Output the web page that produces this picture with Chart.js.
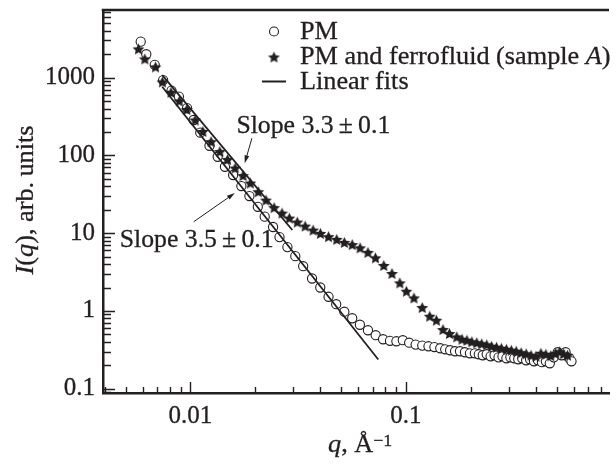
<!DOCTYPE html>
<html>
<head>
<meta charset="utf-8">
<script src="https://cdn.jsdelivr.net/npm/chart.js@4"></script>
<style>
  html, body { margin: 0; padding: 0; background: #fff; }
  #wrap { width: 616px; height: 466px; }
</style>
</head>
<body>
<div id="wrap"><canvas id="saxs" width="616" height="466"></canvas></div>
<script>
// PM, open circles
const qPM = [0.00588, 0.00624, 0.00683, 0.00747, 0.00817, 0.00884, 0.00965, 0.01035, 0.01111, 0.01226,
  0.01338, 0.01446, 0.01578, 0.01723, 0.01878, 0.02054, 0.02211, 0.02418, 0.0259, 0.02818,
  0.03066, 0.03335, 0.03667, 0.04003, 0.04373, 0.04747, 0.05176, 0.05631, 0.06113, 0.06665,
  0.07236, 0.07831, 0.08432, 0.09028, 0.09669, 0.1035, 0.1109, 0.119, 0.1272, 0.1355,
  0.1443, 0.1521, 0.1603, 0.169, 0.1781, 0.1878, 0.198, 0.2087, 0.2177, 0.2271,
  0.2369, 0.247, 0.2576, 0.2687, 0.2803, 0.2924, 0.305, 0.3181, 0.3318, 0.3461,
  0.361, 0.3765, 0.3926, 0.4097, 0.4273, 0.4457, 0.4649, 0.4849, 0.5057, 0.5275,
  0.5502, 0.5739, 0.5861];
const iPM = [2900, 2000, 1460, 930, 680, 570, 405, 285, 196, 133,
  96, 71.4, 55.9, 40.3, 30.0, 21.8, 16.3, 12.0, 8.89, 6.61,
  5.06, 3.76, 2.61, 2.0, 1.52, 1.22, 0.977, 0.805, 0.664, 0.564,
  0.487, 0.432, 0.413, 0.407, 0.420, 0.390, 0.369, 0.358, 0.351, 0.343,
  0.331, 0.321, 0.312, 0.303, 0.303, 0.294, 0.285, 0.285, 0.277, 0.269,
  0.277, 0.261, 0.269, 0.253, 0.261, 0.246, 0.253, 0.246, 0.239, 0.246,
  0.232, 0.239, 0.225, 0.232, 0.219, 0.225, 0.212, 0.253, 0.294, 0.269,
  0.294, 0.246, 0.225];

// PM and ferrofluid (sample A), stars
const qPMF = [0.005741, 0.006145, 0.006887, 0.007413, 0.008126, 0.008886, 0.009618, 0.01052, 0.01142, 0.01247,
  0.01369, 0.01486, 0.01613, 0.01754, 0.01897, 0.02065, 0.02242, 0.02444, 0.0266, 0.02877,
  0.03131, 0.03407, 0.03707, 0.0401, 0.04373, 0.04772, 0.05176, 0.05631, 0.06126, 0.06665,
  0.07221, 0.07889, 0.0861, 0.09368, 0.1005, 0.1089, 0.119, 0.1289, 0.1384, 0.1485,
  0.1592, 0.1721, 0.182, 0.1918, 0.2021, 0.2131, 0.2246, 0.2369, 0.2496, 0.2631,
  0.2773, 0.2924, 0.3082, 0.3248, 0.3424, 0.361, 0.3805, 0.4011, 0.4228, 0.4457,
  0.4698, 0.4952, 0.5164, 0.5386, 0.562];
const iPMF = [2340, 1740, 1373, 880, 645, 501, 389, 285, 203, 150,
  112, 88.4, 68.8, 55.0, 44.1, 34.1, 26.6, 21.3, 18.1, 15.6,
  13.87, 12.31, 10.94, 9.92, 9.02, 8.31, 7.60, 7.12, 6.47, 5.65,
  4.81, 3.84, 3.03, 2.29, 1.79, 1.47, 1.106, 0.855, 0.759, 0.576,
  0.512, 0.463, 0.432, 0.420, 0.401, 0.390, 0.378, 0.367, 0.351, 0.341,
  0.331, 0.321, 0.312, 0.303, 0.290, 0.281, 0.269, 0.261, 0.285, 0.277,
  0.265, 0.285, 0.298, 0.281, 0.269];

// linear fits (end points)
const fitPMq = [0.0074, 0.0744];
const fitPMi = [763, 0.237];
const fitPMFq = [0.0074, 0.0297];
const fitPMFi = [1075, 10.96];

const xTicks = [0.01, 0.1];
const xTickLabels = ['0.01', '0.1'];
const yTicks = [0.1, 1, 10, 100, 1000];
const yTickLabels = ['0.1', '1', '10', '100', '1000'];

const legendLabels = ['PM', 'PM and ferrofluid (sample ', 'Linear fits'];

// slope notes: text anchor and arrow tail/head, all in data units
const notes = [
  { text: 'Slope 3.3\u2009\u00b1\u20090.1', at: [0.01634, 194], tail: [0.01928, 166], head: [0.01786, 79] },
  { text: 'Slope 3.5\u2009\u00b1\u20090.1', at: [0.004697, 6.61], tail: [0.010354, 14.0], head: [0.01607, 32.8] }
];

const ink = '#231f20';
const FONT = '"Liberation Serif", "Times New Roman", serif';

const zip = (xs, ys) => xs.map((v, i) => ({ x: v, y: ys[i] }));

function makeStar(r) {
  const s = Math.ceil(r * 2 + 2);
  const c = document.createElement('canvas');
  c.width = s; c.height = s;
  const g = c.getContext('2d');
  g.translate(s / 2, s / 2 + 0.6);
  g.beginPath();
  for (let k = 0; k < 10; k++) {
    const rr = k % 2 ? r * 0.48 : r;
    const a = -Math.PI / 2 + k * Math.PI / 5;
    g.lineTo(rr * Math.cos(a), rr * Math.sin(a));
  }
  g.closePath();
  g.fillStyle = ink;
  g.fill();
  return c;
}
const star = makeStar(6.2);

// text runs with mixed upright / italic pieces, slightly widened
function drawRuns(ctx, parts, x, y, sx = 1.05) {
  ctx.save();
  ctx.translate(x, y);
  ctx.scale(sx, 1);
  ctx.lineWidth = 0.3;
  let cx = 0;
  for (const p of parts) {
    ctx.font = (p.it ? 'italic ' : '') + (p.size || 25) + 'px ' + FONT;
    ctx.fillText(p.t, cx, -(p.up || 0));
    ctx.strokeText(p.t, cx, -(p.up || 0));
    cx += ctx.measureText(p.t).width;
  }
  ctx.restore();
  return cx * sx;
}
function runsWidth(ctx, parts, sx = 1.05) {
  let w = 0;
  for (const p of parts) {
    ctx.font = (p.it ? 'italic ' : '') + (p.size || 25) + 'px ' + FONT;
    w += ctx.measureText(p.t).width;
  }
  return w * sx;
}
function arrow(ctx, x0, y0, x1, y1) {
  const a = Math.atan2(y1 - y0, x1 - x0);
  ctx.lineWidth = 1;
  ctx.beginPath(); ctx.moveTo(x0, y0); ctx.lineTo(x1 - 5 * Math.cos(a), y1 - 5 * Math.sin(a)); ctx.stroke();
  ctx.beginPath();
  ctx.moveTo(x1, y1);
  ctx.lineTo(x1 - 8 * Math.cos(a) + 2.4 * Math.sin(a), y1 - 8 * Math.sin(a) - 2.4 * Math.cos(a));
  ctx.lineTo(x1 - 8 * Math.cos(a) - 2.4 * Math.sin(a), y1 - 8 * Math.sin(a) + 2.4 * Math.cos(a));
  ctx.closePath(); ctx.fill();
}

const decor = {
  id: 'decor',
  afterDraw(chart) {
    const { ctx, chartArea: a, scales: { x, y } } = chart;
    ctx.save();
    ctx.strokeStyle = ink;
    ctx.fillStyle = ink;

    // top frame line
    ctx.lineWidth = 2.5;
    ctx.beginPath(); ctx.moveTo(a.left - 1.25, a.top); ctx.lineTo(a.right, a.top); ctx.stroke();

    // inward tick marks
    ctx.lineWidth = 1.4;
    ctx.beginPath();
    for (let e = -3; e <= 0; e++) {
      for (let k = 1; k <= 9; k++) {
        const v = k * Math.pow(10, e);
        if (v <= x.min || v >= x.max) continue;
        const px = Math.round(x.getPixelForValue(v)) + 0.5;
        ctx.moveTo(px, a.bottom); ctx.lineTo(px, a.bottom - (k === 1 ? 11 : 6));
      }
    }
    for (let e = -2; e <= 3; e++) {
      for (let k = 1; k <= 9; k++) {
        const v = k * Math.pow(10, e);
        if (v <= y.min || v >= y.max) continue;
        const py = Math.round(y.getPixelForValue(v)) + 0.5;
        ctx.moveTo(a.left, py); ctx.lineTo(a.left + (k === 1 ? 12 : 8), py);
      }
    }
    ctx.stroke();

    // legend
    ctx.textBaseline = 'alphabetic';
    ctx.textAlign = 'left';
    ctx.lineWidth = 1.1;
    ctx.fillStyle = '#fff';
    ctx.beginPath(); ctx.arc(274, 31.5, 4.5, 0, Math.PI * 2); ctx.fill(); ctx.stroke();
    ctx.fillStyle = ink;
    ctx.drawImage(star, 274 - star.width / 2, 57 - star.height / 2);
    ctx.lineWidth = 2;
    ctx.beginPath(); ctx.moveTo(262, 81.5); ctx.lineTo(286, 81.5); ctx.stroke();

    drawRuns(ctx, [{ t: legendLabels[0] }], 300, 38.5);
    drawRuns(ctx, [{ t: legendLabels[1] }, { t: 'A', it: true }, { t: ')' }], 300, 63.5);
    drawRuns(ctx, [{ t: legendLabels[2] }], 300, 88.5);

    // slope notes with arrows
    for (const n of notes) {
      drawRuns(ctx, [{ t: n.text }], x.getPixelForValue(n.at[0]), y.getPixelForValue(n.at[1]), 1.03);
      arrow(ctx, x.getPixelForValue(n.tail[0]), y.getPixelForValue(n.tail[1]),
        x.getPixelForValue(n.head[0]), y.getPixelForValue(n.head[1]));
    }

    // axis titles
    drawRuns(ctx, [{ t: 'q', it: true }, { t: ', \u00c5' }, { t: '\u22121', size: 17, up: 6 }], 328, 451.5);
    const yTitle = [{ t: 'I', it: true }, { t: '(' }, { t: 'q', it: true }, { t: '), arb.\u2009units' }];
    ctx.translate(33, 200);
    ctx.rotate(-Math.PI / 2);
    drawRuns(ctx, yTitle, -runsWidth(ctx, yTitle) / 2, 0);
    ctx.restore();
  }
};

new Chart(document.getElementById('saxs'), {
  type: 'scatter',
  data: {
    datasets: [
      {
        data: zip(fitPMFq, fitPMFi), showLine: true, pointRadius: 0,
        borderColor: ink, borderWidth: 1.8
      },
      {
        data: zip(fitPMq, fitPMi), showLine: true, pointRadius: 0,
        borderColor: ink, borderWidth: 1.8
      },
      {
        data: zip(qPMF, iPMF), pointStyle: star, pointRadius: 6
      },
      {
        data: zip(qPM, iPM), pointStyle: 'circle', pointRadius: 4.6,
        borderColor: ink, borderWidth: 1.1, backgroundColor: '#fff'
      }
    ]
  },
  options: {
    responsive: false,
    animation: false,
    devicePixelRatio: 1,
    layout: { padding: { top: 10, right: 0, left: 0, bottom: 0 } },
    plugins: { legend: { display: false }, tooltip: { enabled: false } },
    scales: {
      x: {
        type: 'logarithmic', min: 0.00393, max: 0.875,
        afterFit: (s) => { s.height = 73; s.paddingLeft = 0; s.paddingRight = 0; },
        afterBuildTicks: (s) => { s.ticks = xTicks.map(v => ({ value: v })); },
        grid: { display: false, drawTicks: false },
        border: { display: true, color: ink, width: 2.5 },
        ticks: {
          autoSkip: false, maxRotation: 0, padding: 8, color: ink,
          textStrokeColor: ink, textStrokeWidth: 0.3,
          font: { family: FONT, size: 25 },
          callback: (v, i) => xTickLabels[i]
        }
      },
      y: {
        type: 'logarithmic', min: 0.088, max: 7400,
        afterFit: (s) => { s.width = 103; s.paddingTop = 0; s.paddingBottom = 0; },
        afterBuildTicks: (s) => { s.ticks = yTicks.map(v => ({ value: v })); },
        grid: { display: false, drawTicks: false },
        border: { display: true, color: ink, width: 2.5 },
        ticks: {
          autoSkip: false, padding: 8, color: ink,
          textStrokeColor: ink, textStrokeWidth: 0.3,
          font: { family: FONT, size: 25 },
          callback: (v, i) => yTickLabels[i]
        }
      }
    }
  },
  plugins: [decor]
});
</script>
</body>
</html>
